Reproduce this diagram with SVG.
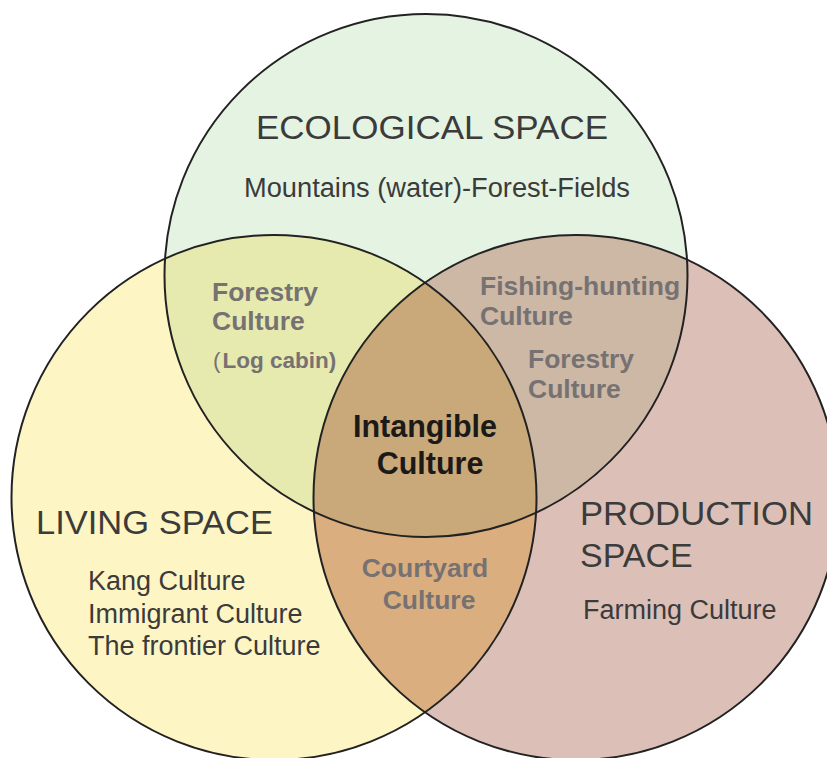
<svg xmlns="http://www.w3.org/2000/svg" width="827" height="758" viewBox="0 0 827 758">
  <style>
    .outline { fill: none; stroke: #222; stroke-width: 2; }
    .title { font-family: "Liberation Sans", Arial, sans-serif; font-size: 34px; fill: #3b3b3b; }
    .body { font-family: "Liberation Sans", Arial, sans-serif; font-size: 27px; fill: #3b3b3b; }
    .sub { font-family: "Liberation Sans", Arial, sans-serif; font-size: 26.5px; font-weight: bold; fill: #777272; }
    .core { font-family: "Liberation Sans", Arial, sans-serif; font-size: 30.5px; font-weight: bold; fill: #1c1a18; }
  </style>
  <defs>
    <clipPath id="cE"><circle cx="426" cy="275.5" r="261.5"/></clipPath>
    <clipPath id="cL"><circle cx="274" cy="497.5" r="262.5"/></clipPath>
  </defs>
  <rect width="827" height="758" fill="#ffffff"/>
  <g id="regions">
    <circle cx="426" cy="275.5" r="261.5" fill="#e5f3e2"/>
    <circle cx="274" cy="497.5" r="262.5" fill="#fef5c5"/>
    <circle cx="576" cy="497.5" r="262.5" fill="#dcc0b7"/>
    <circle cx="274" cy="497.5" r="262.5" fill="#e6eaaf" clip-path="url(#cE)"/>
    <circle cx="576" cy="497.5" r="262.5" fill="#cdb8a6" clip-path="url(#cE)"/>
    <circle cx="576" cy="497.5" r="262.5" fill="#dbae80" clip-path="url(#cL)"/>
    <g clip-path="url(#cE)">
      <circle cx="576" cy="497.5" r="262.5" fill="#c9a879" clip-path="url(#cL)"/>
    </g>
  </g>
  <g id="ecological">
    <circle class="outline" cx="426" cy="275.5" r="261.5"/>
    <text class="title" x="256" y="139" textLength="352" lengthAdjust="spacingAndGlyphs">ECOLOGICAL SPACE</text>
    <text class="body" x="244" y="197" textLength="386" lengthAdjust="spacingAndGlyphs">Mountains (water)-Forest-Fields</text>
  </g>
  <g id="living">
    <circle class="outline" cx="274" cy="497.5" r="262.5"/>
    <text class="title" x="36" y="534" textLength="237" lengthAdjust="spacingAndGlyphs">LIVING SPACE</text>
    <text class="body" x="88" y="590">Kang Culture</text>
    <text class="body" x="88" y="623">Immigrant Culture</text>
    <text class="body" x="88" y="655">The frontier Culture</text>
  </g>
  <g id="production">
    <circle class="outline" cx="576" cy="497.5" r="262.5"/>
    <text class="title" x="580" y="525" textLength="233" lengthAdjust="spacingAndGlyphs">PRODUCTION</text>
    <text class="title" x="580" y="567">SPACE</text>
    <text class="body" x="583" y="619">Farming Culture</text>
  </g>
  <g id="ecological-living">
    <text class="sub" x="212" y="301">Forestry</text>
    <text class="sub" x="212" y="330">Culture</text>
    <text class="sub" x="213" y="368" style="font-size:22.5px"><tspan style="font-weight:normal">(</tspan><tspan dx="2">Log cabin)</tspan></text>
  </g>
  <g id="ecological-production">
    <text class="sub" x="480" y="295">Fishing-hunting</text>
    <text class="sub" x="480" y="325">Culture</text>
    <text class="sub" x="528" y="368">Forestry</text>
    <text class="sub" x="528" y="398">Culture</text>
  </g>
  <g id="living-production">
    <text class="sub" x="425" y="577" text-anchor="middle">Courtyard</text>
    <text class="sub" x="429" y="609" text-anchor="middle">Culture</text>
  </g>
  <g id="intangible">
    <text class="core" x="425" y="437" text-anchor="middle">Intangible</text>
    <text class="core" x="430" y="474" text-anchor="middle">Culture</text>
  </g>
  <g id="connectors"/>
</svg>
